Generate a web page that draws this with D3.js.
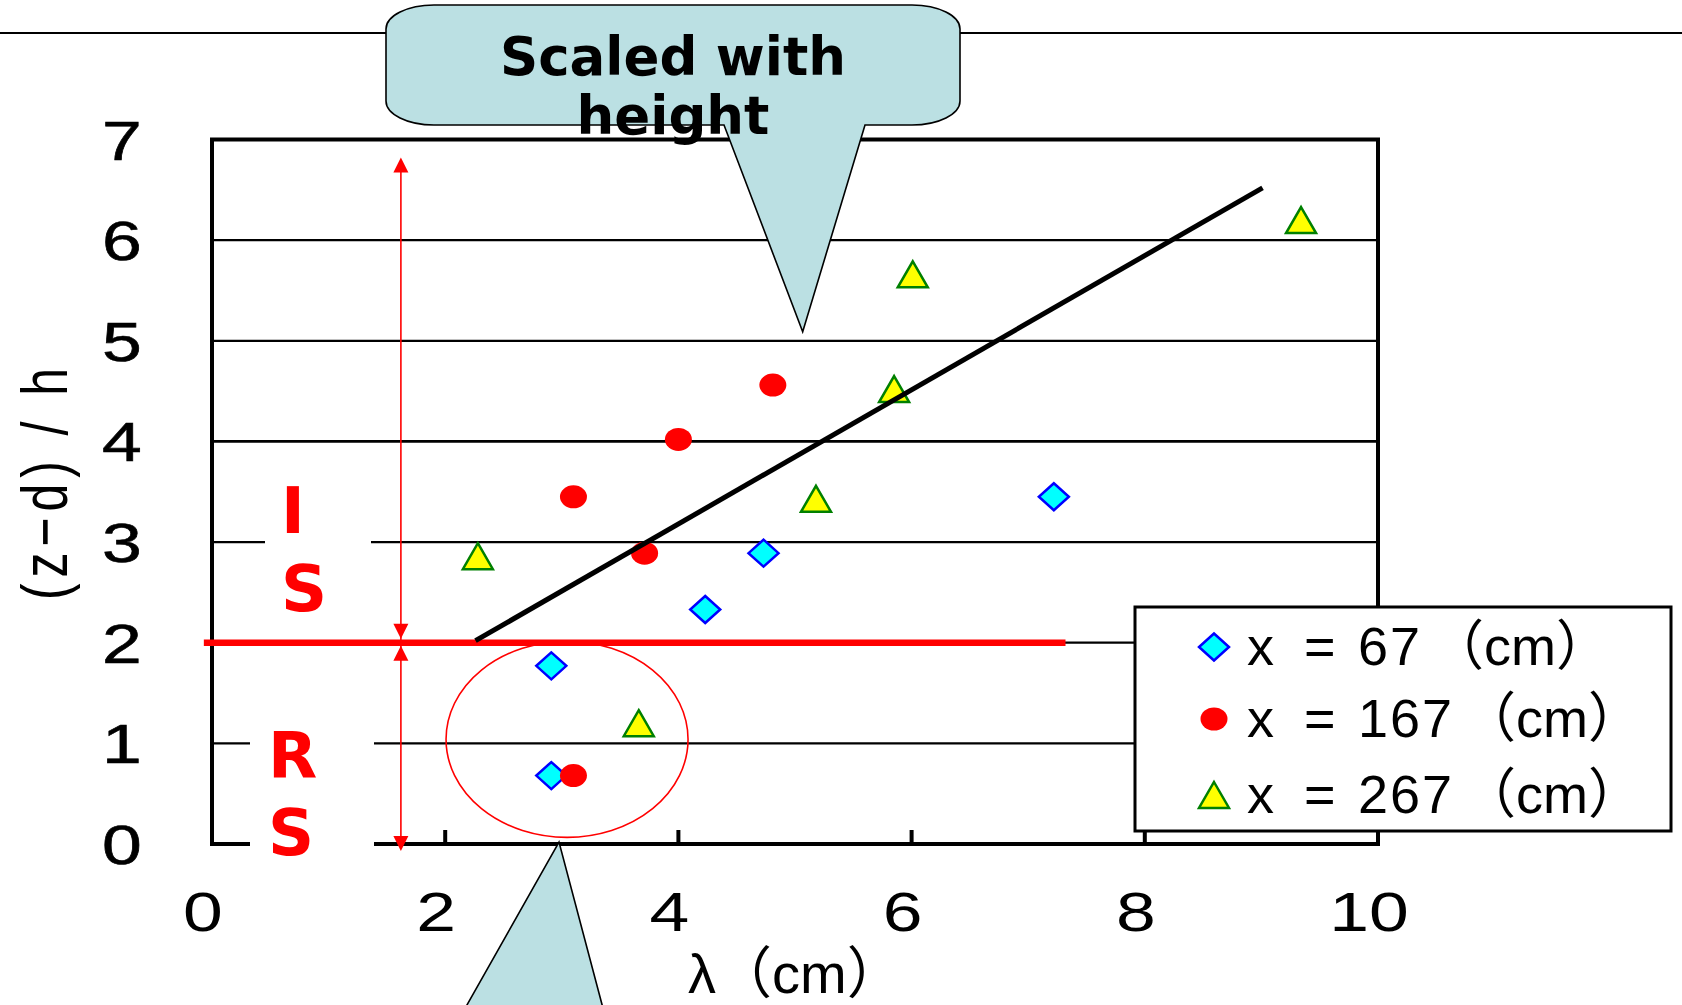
<!DOCTYPE html>
<html>
<head>
<meta charset="utf-8">
<script src="https://cdn.jsdelivr.net/npm/d3@7"></script>
<style>
  html, body { margin: 0; padding: 0; background: #fff; overflow: hidden; }
  svg { font-family: "Liberation Sans", "Noto Sans CJK JP", sans-serif; }
</style>
</head>
<body>
<svg id="chart" width="1682" height="1005"></svg>
<script>
// axis ticks
const xTicks = [0, 2, 4, 6, 8, 10];
const yTicks = [0, 1, 2, 3, 4, 5, 6, 7];
const gridValues = [1, 2, 3, 4, 5, 6];

// measured points, [lambda (cm), (z-d)/h]
const seriesX67 = [[2.91, 1.77], [2.91, 0.68], [4.23, 2.33], [4.73, 2.89], [7.22, 3.45]];
const seriesX167 = [[3.10, 3.45], [4.00, 4.02], [4.81, 4.56], [3.71, 2.89], [3.10, 0.68]];
const seriesX267 = [[2.28, 2.86], [3.66, 1.20], [5.18, 3.43], [5.85, 4.52], [6.01, 5.66], [9.34, 6.20]];
const trendLine = [[2.26, 2.02], [9.01, 6.52]];
const legendValues = ['67', '167', '267'];

// annotations (data units)
const boundaryY = 2;
const boundaryX = [-0.07, 7.32];
const arrowX = 1.62;
const arrowTop = 6.82;
const arrowBottom = -0.07;
const circleCenter = [3.045, 1.04];
const topCalloutTip = [5.066, 5.09];
const bottomCalloutTip = [2.976, 0.02];

const svg = d3.select('#chart');
const x = d3.scaleLinear().domain([0, 10]).range([212, 1378]);
const y = d3.scaleLinear().domain([0, 7]).range([844, 139.5]);

// rule across the page top
svg.append('line').attr('x1', 0).attr('x2', 1682).attr('y1', 33).attr('y2', 33)
  .attr('stroke', '#000').attr('stroke-width', 2);

// gridlines
svg.append('g').selectAll('line').data(gridValues).join('line')
  .attr('x1', x(0)).attr('x2', x(10))
  .attr('y1', (d) => y(d)).attr('y2', (d) => y(d))
  .attr('stroke', '#000').attr('stroke-width', (d) => (d === 4 ? 2.8 : 2.2));

// plot frame
svg.append('rect')
  .attr('x', x(0)).attr('y', y(7))
  .attr('width', x(10) - x(0)).attr('height', y(0) - y(7))
  .attr('fill', 'none').attr('stroke', '#000').attr('stroke-width', 4);

// inner ticks on the x axis
svg.append('g').selectAll('line').data(xTicks.slice(1, -1)).join('line')
  .attr('x1', (d) => x(d)).attr('x2', (d) => x(d))
  .attr('y1', y(0)).attr('y2', y(0) - 14)
  .attr('stroke', '#000').attr('stroke-width', 4);

// tick labels
svg.append('g').selectAll('text').data(yTicks).join('text')
  .attr('transform', (d) => `translate(122,${y(d) + 20}) scale(1.3,1)`)
  .attr('text-anchor', 'middle').attr('font-size', 55).attr('fill', '#000')
  .attr('stroke', '#000').attr('stroke-width', 0.6)
  .text((d) => d);

svg.append('g').selectAll('text').data(xTicks).join('text')
  .attr('transform', (d) => `translate(${x(d) - 9},931) scale(1.3,1)`)
  .attr('text-anchor', 'middle').attr('font-size', 55).attr('fill', '#000')
  .text((d) => d);

// axis titles
svg.append('text')
  .attr('transform', 'translate(67,484) rotate(-90) scale(1,1.3)')
  .attr('text-anchor', 'middle').attr('font-size', 50)
  .attr('textLength', 232).attr('lengthAdjust', 'spacing')
  .text('(z−d) / h');

svg.append('text')
  .attr('x', 688).attr('y', 993)
  .attr('font-size', 56)
  .text('λ（cm）');

// region labels with white backing
const regionLabels = [
  { box: [265, 452, 106, 176], lines: ['I', 'S'], x: 281, baselines: [533, 611] },
  { box: [250, 692, 124, 180], lines: ['R', 'S'], x: 268, baselines: [778, 855] }
];
regionLabels.forEach((r) => {
  svg.append('rect').attr('x', r.box[0]).attr('y', r.box[1])
    .attr('width', r.box[2]).attr('height', r.box[3]).attr('fill', '#fff');
  r.lines.forEach((t, i) => {
    svg.append('text').attr('x', r.x).attr('y', r.baselines[i])
      .style('font-family', '"DejaVu Sans", sans-serif').attr('font-weight', 'bold')
      .attr('font-size', 64).attr('fill', '#ff0000').text(t);
  });
});

// boundary line at (z-d)/h = 2
svg.append('line')
  .attr('x1', x(boundaryX[0])).attr('x2', x(boundaryX[1]))
  .attr('y1', y(boundaryY)).attr('y2', y(boundaryY))
  .attr('stroke', '#ff0000').attr('stroke-width', 6.5);

// red double arrows
const ax = x(arrowX);
function arrowHead(tipY, dir) {
  const baseY = tipY - dir * 15;
  svg.append('polygon')
    .attr('points', `${ax},${tipY} ${ax - 7.5},${baseY} ${ax + 7.5},${baseY}`)
    .attr('fill', '#ff0000');
}
svg.append('line').attr('x1', ax).attr('x2', ax)
  .attr('y1', y(arrowTop) + 4).attr('y2', y(arrowBottom) - 4)
  .attr('stroke', '#ff0000').attr('stroke-width', 1.6);
arrowHead(y(arrowTop), -1);
arrowHead(y(boundaryY) - 4, 1);
arrowHead(y(boundaryY) + 3, -1);
arrowHead(y(arrowBottom), 1);

// ellipse around the roughness-layer points
svg.append('ellipse')
  .attr('cx', x(circleCenter[0])).attr('cy', y(circleCenter[1]))
  .attr('rx', 121).attr('ry', 98)
  .attr('fill', 'none').attr('stroke', '#ff0000').attr('stroke-width', 1.6);

// markers
const diamondPath = 'M0,-13.5L15,0L0,13.5L-15,0Z';
const trianglePath = 'M0,-15L15,11L-15,11Z';

function drawDiamond(g, cx, cy) {
  g.append('path').attr('d', diamondPath).attr('transform', `translate(${cx},${cy})`)
    .attr('fill', '#00ffff').attr('stroke', '#0000ff').attr('stroke-width', 2.5);
}
function drawCircle(g, cx, cy) {
  g.append('ellipse').attr('cx', cx).attr('cy', cy).attr('rx', 13.5).attr('ry', 11.5)
    .attr('fill', '#ff0000');
}
function drawTriangle(g, cx, cy) {
  g.append('path').attr('d', trianglePath).attr('transform', `translate(${cx},${cy + 2})`)
    .attr('fill', '#ffff00').attr('stroke', '#008000').attr('stroke-width', 2.5);
}

const marks = svg.append('g');
seriesX67.forEach((d) => drawDiamond(marks, x(d[0]), y(d[1])));
seriesX167.forEach((d) => drawCircle(marks, x(d[0]), y(d[1])));
seriesX267.forEach((d) => drawTriangle(marks, x(d[0]), y(d[1])));

// trend line
svg.append('path')
  .attr('d', d3.line().x((d) => x(d[0])).y((d) => y(d[1]))(trendLine))
  .attr('stroke', '#000').attr('stroke-width', 5).attr('fill', 'none');

// legend
const legend = svg.append('g');
legend.append('rect').attr('x', 1135).attr('y', 607).attr('width', 536).attr('height', 224)
  .attr('fill', '#fff').attr('stroke', '#000').attr('stroke-width', 3);
const legendDraw = [drawDiamond, drawCircle, drawTriangle];
const legendRowY = [647, 719, 795];
legendValues.forEach((v, i) => {
  legendDraw[i](legend, 1214, legendRowY[i]);
  const t = legend.append('text').attr('y', legendRowY[i] + 18).attr('font-size', 54).attr('fill', '#000');
  t.append('tspan').attr('x', 1247).text('x');
  t.append('tspan').attr('x', 1304).text('=');
  t.append('tspan').attr('x', 1358).attr('letter-spacing', 2).text(v);
  t.append('tspan').attr('dx', 8).text('（cm）');
});

// callouts
const callFill = '#bbe0e3';
const [tx, ty] = [x(topCalloutTip[0]), y(topCalloutTip[1])];
const L = 386, T = 5, R = 960, B = 125, rx = 48, ry = 24;
const calloutPath = [
  `M${L + rx},${T}`, `H${R - rx}`, `A${rx},${ry} 0 0 1 ${R},${T + ry}`,
  `V${B - ry}`, `A${rx},${ry} 0 0 1 ${R - rx},${B}`,
  'H865', `L${tx},${ty}`, 'L724,' + B,
  `H${L + rx}`, `A${rx},${ry} 0 0 1 ${L},${B - ry}`,
  `V${T + ry}`, `A${rx},${ry} 0 0 1 ${L + rx},${T}`, 'Z'
].join(' ');
svg.append('path').attr('d', calloutPath)
  .attr('fill', callFill).attr('stroke', '#000').attr('stroke-width', 1.6);

const calloutText = svg.append('text').attr('text-anchor', 'middle')
  .style('font-family', '"DejaVu Sans", sans-serif').attr('font-weight', 'bold')
  .attr('font-size', 53).attr('fill', '#000');
calloutText.append('tspan').attr('x', 673).attr('y', 75).text('Scaled with');
calloutText.append('tspan').attr('x', 673).attr('y', 134).text('height');

const [bx, by] = [x(bottomCalloutTip[0]), y(bottomCalloutTip[1])];
svg.append('path')
  .attr('d', `M463,1012 L${bx},${by} L604,1012 Z`)
  .attr('fill', callFill).attr('stroke', '#000').attr('stroke-width', 1.6);
</script>
</body>
</html>
